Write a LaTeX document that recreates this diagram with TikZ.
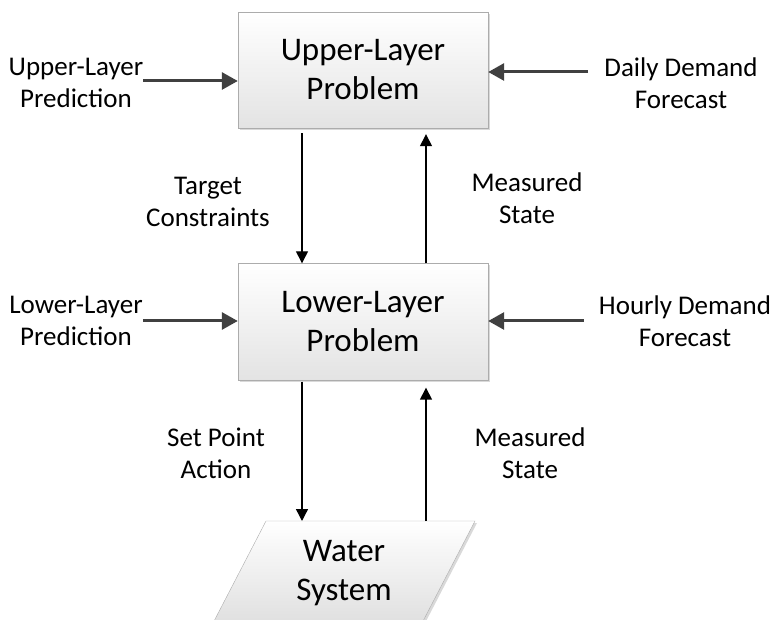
\documentclass[tikz,border=0pt]{standalone}
\usepackage{fontspec}
\setmainfont{Carlito}
\usetikzlibrary{%
  arrows.meta,
  shadows,
}

\tikzset{
  problem/.style = {draw = gray!65, top color = white,
    bottom color = gray!22, minimum width = 250pt,
    minimum height = 116pt, align = center,
    font = \fontsize{33}{39}\selectfont,
    drop shadow = {shadow xshift = 2pt, shadow yshift = -2pt,
      opacity = .3, fill = gray}},
  info/.style = {align = center, inner sep = 0pt,
    font = \fontsize{27}{32}\selectfont},
  feed/.style = {line width = 3pt, draw = black!75,
    -{Triangle[width = 17pt, length = 16pt]}},
  flow/.style = {line width = 1.4pt,
    -{Triangle[width = 12pt, length = 12pt]}},
}

\begin{document}
\begin{tikzpicture}[x = 1pt, y = -1pt]
  % units are pixels of the page, y grows downwards
  \useasboundingbox (0,0) rectangle (777,620);

  \node[problem] (upper) at (363,70) {Upper-Layer\\Problem};
  \node[problem, minimum height = 117pt] (lower)
    at (363,322) {Lower-Layer\\Problem};

  % the water system is cut by the lower edge
  \begin{scope}
    \clip (0,0) rectangle (777,620);
    \path[draw = gray!65, top color = white,
      bottom color = gray!25,
      drop shadow = {shadow xshift = 2pt, shadow yshift = -2pt,
        opacity = .3, fill = gray}]
      (266,521) -- (475,521) -- (421,625) -- (212,625) -- cycle;
  \end{scope}
  \node[font = \fontsize{33}{39}\selectfont, align = center]
    (water) at (344,573) {Water\\System};
  \coordinate (wtop) at (370,521);

  \node[info] (upred) at (76,83) {Upper-Layer\\Prediction};
  \node[info] (daily) at (681,83) {Daily Demand\\Forecast};
  \node[info] (lpred) at (76,321) {Lower-Layer\\Prediction};
  \node[info] (hourly) at (685,321) {Hourly Demand\\Forecast};
  \node[info] (target) at (208,202) {Target\\Constraints};
  \node[info] (mstateup) at (527,198) {Measured\\State};
  \node[info] (setpoint) at (216,453) {Set Point\\Action};
  \node[info] (mstatelow) at (530,453) {Measured\\State};

  \draw[feed] ([yshift = 2pt]upred.east)
    -- ([yshift = 2pt]upred.east -| upper.west);
  \draw[feed] ([xshift = -16pt, yshift = 11pt]daily.west)
    -- ([yshift = 11pt]daily.west -| upper.east);
  \draw[feed] (lpred.east) -- (lpred.east -| lower.west);
  \draw[feed] ([xshift = -15pt]hourly.west)
    -- (hourly.west -| lower.east);

  \draw[flow, shorten <= 5pt]
    ([xshift = -61pt]upper.south) -- ([xshift = -61pt]lower.north);
  \draw[flow, shorten >= 6pt]
    ([xshift = 63pt]lower.north) -- ([xshift = 63pt]upper.south);
  \draw[flow, shorten <= 1pt]
    ([xshift = -61pt]lower.south) -- ([xshift = -61pt]lower.south |- wtop);
  \draw[flow, shorten >= 7pt]
    ([xshift = 63pt]lower.south |- wtop) -- ([xshift = 63pt]lower.south);
\end{tikzpicture}
\end{document}
